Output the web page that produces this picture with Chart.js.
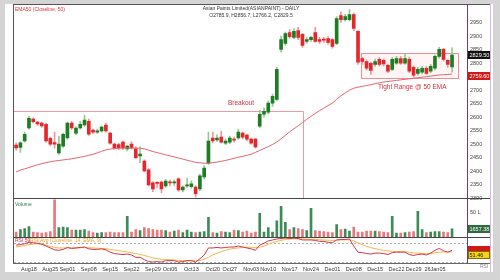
<!DOCTYPE html>
<html>
<head>
<meta charset="utf-8">
<script src="https://cdn.jsdelivr.net/npm/chart.js@4.4.1/dist/chart.umd.min.js"></script>
<style>
  html, body { margin: 0; padding: 0; background: #d4d4d4; }
  #box { position: absolute; left: 0; top: 0; width: 500px; height: 280px; }
</style>
</head>
<body>
<div id="box"><canvas id="chart" width="500" height="280"></canvas></div>
<script>
// trading days shown on the chart
const dates = ['Aug12','Aug13','Aug14','Aug18','Aug19','Aug20','Aug21','Aug22','Aug25','Aug26','Aug28','Aug29',
  'Sep01','Sep02','Sep03','Sep04','Sep05','Sep08','Sep09','Sep10','Sep11','Sep12','Sep15','Sep16','Sep17','Sep18','Sep19',
  'Sep22','Sep23','Sep24','Sep25','Sep26','Sep29','Sep30','Oct01','Oct03','Oct06','Oct07','Oct08','Oct09','Oct10',
  'Oct13','Oct14','Oct15','Oct16','Oct17','Oct20','Oct21','Oct23','Oct24','Oct27','Oct28','Oct29','Oct30','Oct31',
  'Nov03','Nov04','Nov06','Nov07','Nov10','Nov11','Nov12','Nov13','Nov14','Nov17','Nov18','Nov19','Nov20','Nov21',
  'Nov24','Nov25','Nov26','Nov27','Nov28','Dec01','Dec02','Dec03','Dec04','Dec05','Dec08','Dec09','Dec10','Dec11','Dec12',
  'Dec15','Dec16','Dec17','Dec18','Dec19','Dec22','Dec23','Dec24','Dec26','Dec29','Dec30','Dec31',
  'Jan01','Jan02','Jan05','Jan06','Jan07','Jan08','Jan09'];

// week labels on the x axis
const tickDates  = ['Aug18','Aug25','Sep01','Sep08','Sep15','Sep22','Sep29','Oct06','Oct13','Oct20','Oct27',
  'Nov03','Nov10','Nov17','Nov24','Dec01','Dec08','Dec15','Dec22','Dec29','Jan05'];
const tickTexts  = ['Aug18','Aug25','Sep01','Sep08','Sep15','Sep22','Sep29','Oct06','Oct13','Oct20','Oct27',
  'Nov03','Nov10','Nov17','Nov24','Dec01','Dec08','Dec15','Dec22','Dec29','26Jan05'];

const opens = [2497,2488,2512,2560,2593,2582,2578,2574,2522,2506,2468,2493,2523,2578,2541,2560,2571,2585,2552,2545,
  2549,2571,2541,2501,2499,2508,2483,2501,2483,2457,2438,2405,2357,2357,2360,2346,2360,2357,2372,2331,
  2346,2343,2342,2335,2379,2430,2523,2516,2526,2504,2508,2519,2523,2541,2534,2519,2519,2567,2611,2619,
  2652,2666,2851,2873,2913,2895,2920,2906,2880,2887,2913,2887,2887,2891,2887,2873,2976,2961,2961,2979,
  2917,2817,2806,2799,2795,2814,2810,2792,2777,2800,2817,2800,2814,2784,2762,2766,2781,2770,2781,2825,
  2851,2810,2785.9];
const highs = [2505,2510,2545,2604,2598,2586,2582,2578,2526,2545,2530,2541,2582,2585,2565,2585,2607,2593,2556,2556,
  2567,2578,2545,2504,2504,2512,2497,2510,2490,2490,2442,2410,2362,2362,2364,2370,2368,2368,2376,2346,
  2375,2365,2346,2390,2420,2545,2545,2535,2549,2520,2530,2526,2556,2545,2537,2523,2522,2625,2635,2660,
  2685,2785,2900,2915,2924,2928,2932,2910,2895,2900,2932,2895,2895,2898,2891,2972,2990,2980,2998,2985,
  2920,2822,2812,2803,2815,2820,2815,2795,2820,2825,2825,2836,2822,2790,2784,2788,2788,2795,2830,2858,
  2855,2812,2856.7];
const lows = [2478,2470,2508,2555,2578,2570,2562,2508,2495,2485,2462,2488,2519,2555,2535,2556,2565,2533,2540,2540,
  2545,2545,2500,2482,2480,2480,2475,2482,2446,2432,2398,2346,2325,2340,2320,2340,2346,2348,2326,2324,
  2340,2338,2305,2328,2372,2425,2505,2510,2504,2498,2502,2508,2518,2520,2512,2500,2485,2560,2600,2612,
  2640,2660,2840,2865,2891,2890,2887,2858,2873,2880,2876,2873,2876,2870,2855,2868,2950,2955,2955,2920,
  2795,2795,2775,2758,2788,2790,2790,2765,2772,2795,2795,2795,2765,2748,2755,2760,2758,2765,2775,2818,
  2808,2784,2766.2];
const closes = [2486,2505,2537,2596,2583,2575,2568,2512,2500,2500,2501,2537,2578,2560,2560,2574,2589,2537,2545,2550,
  2563,2549,2504,2486,2487,2486,2493,2486,2450,2464,2401,2350,2335,2355,2335,2364,2357,2360,2331,2342,
  2350,2354,2317,2383,2412,2512,2512,2523,2508,2512,2523,2515,2545,2526,2519,2504,2490,2611,2622,2652,
  2677,2777,2887,2909,2898,2917,2895,2865,2887,2895,2880,2880,2885,2876,2862,2965,2961,2972,2979,2928,
  2803,2806,2781,2773,2806,2795,2797,2770,2814,2817,2800,2817,2770,2755,2777,2781,2762,2788,2825,2851,
  2814,2795,2829.5];

// volume in lakh shares
const volumes = [10,15,17,21,10,9,8,9,11,75,19,20,19,14,14,14,15,12,9,8,
  9,9,10,9,9,9,42,10,15,13,19,17,15,14,14,13,10,12,14,9,
  14,10,9,10,11,40,9,8,11,10,9,14,13,10,12,8,10,48,10,19,
  10,33,62,30,15,19,17,15,13,58,13,12,11,10,9,25,15,16,12,20,
  10,10,12,12,12,11,10,9,42,8,8,9,10,11,52,15,9,10,11,11,
  10,9,16.5738];

const ema50 = [2398,2404,2409,2414,2419,2424,2428,2432,2435,2438,2440,2442,2444,2446,2449,2452,2455,2459,2463,2468,
  2474,2479,2482,2484,2485,2486,2486,2486,2486,2485,2483,2478,2473,2469,2465,2461,2457,2453,2449,2445,
  2441,2437,2433,2431,2430,2430,2432,2434,2437,2440,2444,2448,2452,2455,2459,2463,2470,2477,2484,2491,
  2499,2508,2520,2533,2546,2557,2568,2580,2592,2603,2614,2624,2633,2643,2652,2666,2679,2690,2700,2707,
  2711,2714,2717,2720,2724,2727,2730,2732,2734,2736,2738,2740,2742,2744,2746,2748,2750,2752,2754,2756,
  2757,2758,2759.6];

const rsi = [66,67,69,72,71,70,68,64,60,56,55,57,61,59,60,61,62,58,57,57,
  58,56,51,48,47,46,47,45,40,40,35,31,30,31,30,33,33,33,30,31,
  33,33,30,37,45,60,60,61,60,61,62,62,64,62,60,58,55,66,70,75,
  77,79,80,81,80,81,80,77,77,77,76,74,74,72,71,77,78,78,79,64,
  51,50,48,47,49,49,48,46,50,51,51,51,46,44,46,47,45,49,55,59,
  54,51,55];
const rsiAvg = [62,63.5,65,67,68,69,68,66,63,61,60,60,60,60,60,60.5,61,60.5,60,59.5,
  59,58.5,57,55.5,54,52.5,51.5,50,48,46.5,44,41.5,39,37.5,36,35.5,35,34.5,33.5,33,
  33,33,32.5,33.5,36,40,45,49,52,55,57.5,59,60,61,61.5,61.5,61,62,63.5,68,
  71,74,76,78,79,79.5,79.5,79,78.5,78.5,78,77.5,77,76.5,76,76.5,77,77,77.5,75,
  71,67,63.5,60.5,58.5,56.5,55,53.5,53,52.5,52,52,51,49.5,49,48.5,48,48,49.5,51,
  51.5,51.5,51.46];

const priceTicks = [2300,2350,2400,2450,2500,2550,2600,2650,2700,2750,2800,2850,2900,2950];

// drawn studies
const breakoutLevel = 2622, breakoutEnd = 67.1;
const rangeTop = 2836, rangeBottom = 2745, rangeStart = 80.6, rangeEnd = 103.2;

const labels = dates.concat(['', '', '']);
const up = closes.map((c, i) => c >= opens[i]);
const font = 'Liberation Sans';

function tag(ctx, y, text, bg, fg, border) {
  ctx.fillStyle = bg;
  ctx.fillRect(468, Math.round(y) - 4, 22, 8);
  if (border) {
    ctx.strokeStyle = border;
    ctx.lineWidth = 1;
    ctx.strokeRect(468.5, Math.round(y) - 3.5, 21, 7);
  }
  ctx.fillStyle = fg;
  ctx.textAlign = 'left';
  ctx.textBaseline = 'middle';
  ctx.font = '5.5px ' + font;
  ctx.fillText(text, 469.5, Math.round(y) + 0.5);
}

function line(ctx, x1, y1, x2, y2, color) {
  ctx.strokeStyle = color;
  ctx.lineWidth = 1;
  ctx.beginPath();
  ctx.moveTo(x1, y1);
  ctx.lineTo(x2, y2);
  ctx.stroke();
}

const decor = {
  id: 'decor',
  beforeDraw(chart) {
    const ctx = chart.ctx;
    ctx.save();
    ctx.fillStyle = '#d4d4d4';
    ctx.fillRect(0, 0, 500, 280);
    ctx.fillStyle = '#ffffff';
    ctx.fillRect(5, 4, 488, 268);
    ctx.restore();
  },
  beforeDatasetsDraw(chart) {
    const ctx = chart.ctx, x = chart.scales.x, y = chart.scales.y, r = chart.scales.yRsi;
    const a = chart.chartArea;
    ctx.save();
    // breakout line
    const by = Math.round(y.getPixelForValue(breakoutLevel)) + 0.5;
    const bx = Math.round(x.getPixelForValue(breakoutEnd)) + 0.5;
    line(ctx, a.left, by, bx, by, '#ee9aa0');
    line(ctx, bx, by, bx, y.bottom, '#ee9aa0');
    // tight range box
    const l = x.getPixelForValue(rangeStart), rr = x.getPixelForValue(rangeEnd);
    const t = y.getPixelForValue(rangeTop), b = y.getPixelForValue(rangeBottom);
    ctx.fillStyle = 'rgba(255,225,225,0.35)';
    ctx.fillRect(l, t, rr - l, b - t);
    ctx.strokeStyle = '#ee8f96';
    ctx.strokeRect(Math.round(l) + 0.5, Math.round(t) + 0.5, Math.round(rr - l), Math.round(b - t));
    // rsi levels
    ctx.setLineDash([2, 2]);
    [70, 30].forEach(v => {
      const ly = Math.round(r.getPixelForValue(v)) + 0.5;
      line(ctx, a.left, ly, a.right, ly, '#b0b0b0');
    });
    ctx.restore();
  },
  afterDraw(chart) {
    const ctx = chart.ctx, y = chart.scales.y, v = chart.scales.yVol, r = chart.scales.yRsi;
    const a = chart.chartArea;
    ctx.save();
    // frame
    line(ctx, 13, 4.5, 490, 4.5, '#555');
    line(ctx, 13.5, 4, 13.5, a.bottom, '#555');
    line(ctx, 490.5, 4, 490.5, 272, '#d9b8de');
    line(ctx, 13, Math.round(y.bottom) + 0.5, 490, Math.round(y.bottom) + 0.5, '#444');
    line(ctx, 13, Math.round(v.bottom) + 0.5, 490, Math.round(v.bottom) + 0.5, '#444');
    line(ctx, 13, Math.round(a.bottom) + 0.5, 490, Math.round(a.bottom) + 0.5, '#666');
    line(ctx, 467.5, 4, 467.5, a.bottom, '#6b3f6b');

    // texts
    ctx.textBaseline = 'middle';
    ctx.textAlign = 'center';
    ctx.fillStyle = '#333';
    ctx.font = '5px ' + font;
    ctx.fillText('Asian Paints Limited(ASIANPAINT) - DAILY', 251, 9);
    ctx.fillText('O2785.9, H2856.7, L2766.2, C2829.5', 251, 15.5);
    ctx.textAlign = 'left';
    ctx.fillStyle = '#e0303a';
    ctx.fillText('EMA50 (Closeline, 50)', 15, 10);
    ctx.font = '6.5px ' + font;
    ctx.fillStyle = '#d6303f';
    ctx.fillText('Breakout', 228, 103);
    ctx.fillText('Tight Range @ 50 EMA', 378, 87);
    ctx.font = '5px ' + font;
    ctx.fillStyle = '#2f7d4c';
    ctx.fillText('Volume', 15, 204.5);
    ctx.fillStyle = '#d0303f';
    ctx.fillText('RSI 59', 15, 241);
    ctx.fillStyle = '#e8a21e';
    ctx.fillText('RSI(Avg (Closeline, 14, EMA, 9)', 30, 241);
    ctx.fillStyle = '#888';
    ctx.fillText('RSI', 480, 267);

    // last value tags
    const n = closes.length - 1;
    tag(ctx, y.getPixelForValue(closes[n]), closes[n].toFixed(2), '#111', '#fff');
    tag(ctx, y.getPixelForValue(ema50[n]) + 2, ema50[n].toFixed(2), '#d01a1a', '#fff');
    tag(ctx, v.getPixelForValue(volumes[n]), (volumes[n] * 100).toFixed(2), '#2d6b3c', '#fff');
    const ry = r.getPixelForValue(rsi[n]);
    tag(ctx, ry, '', '#d01a1a', '#fff');
    tag(ctx, Math.max(r.getPixelForValue(rsiAvg[n]) + 3, ry + 5), rsiAvg[n].toFixed(2), '#f3d417', '#222', '#8a6a00');
    ctx.restore();
  }
};

new Chart(document.getElementById('chart'), {
  type: 'bar',
  data: {
    labels: labels,
    datasets: [
      {
        type: 'line', data: ema50, yAxisID: 'y', borderColor: '#e3656f', borderWidth: 1,
        pointRadius: 0, tension: 0, order: 0
      },
      {
        data: opens.map((o, i) => [o, closes[i]]), yAxisID: 'y', grouped: false,
        barThickness: 3, minBarLength: 1, order: 1,
        backgroundColor: up.map(u => u ? '#1e7d22' : '#e5262c')
      },
      {
        data: lows.map((l, i) => [l, highs[i]]), yAxisID: 'y', grouped: false,
        barThickness: 1, order: 2,
        backgroundColor: up.map(u => u ? '#94c894' : '#f0979a')
      },
      {
        data: volumes, yAxisID: 'yVol', grouped: false, barThickness: 2, order: 3,
        backgroundColor: up.map(u => u ? '#3f8b58' : '#e6787e')
      },
      {
        type: 'line', data: rsi, yAxisID: 'yRsi', borderColor: '#d3354a', borderWidth: 1,
        pointRadius: 0, tension: 0, order: 0
      },
      {
        type: 'line', data: rsiAvg, yAxisID: 'yRsi', borderColor: '#f5b54a', borderWidth: 1,
        pointRadius: 0, tension: 0, order: 0
      }
    ]
  },
  options: {
    responsive: false,
    animation: false,
    layout: { padding: { left: 14, right: 10, top: 5, bottom: 8 } },
    plugins: { legend: { display: false }, tooltip: { enabled: false } },
    scales: {
      x: {
        type: 'category', offset: true,
        grid: { display: false, drawTicks: false },
        border: { display: false },
        ticks: {
          autoSkip: false, maxRotation: 0, minRotation: 0, padding: 3,
          font: { family: font, size: 5.5 }, color: '#333',
          callback: function (val) {
            const k = tickDates.indexOf(this.getLabelForValue(val));
            return k >= 0 ? tickTexts[k] : '';
          }
        },
        afterFit: s => { s.height = 9; }
      },
      y: {
        position: 'right', stack: 'panes', stackWeight: 193, min: 2300, max: 3010,
        grid: { display: false, drawTicks: false }, border: { display: false },
        afterBuildTicks: s => { s.ticks = priceTicks.map(p => ({ value: p })); },
        ticks: {
          autoSkip: false, padding: 3, font: { family: font, size: 5.5 }, color: '#444',
          callback: val => String(val)
        },
        afterFit: s => { s.width = 23; }
      },
      yVol: {
        position: 'right', stack: 'panes', stackWeight: 39, min: 0, max: 78,
        grid: { display: false, drawTicks: false }, border: { display: false },
        afterBuildTicks: s => { s.ticks = [{ value: 50 }]; },
        ticks: {
          autoSkip: false, padding: 3, font: { family: font, size: 5.5 }, color: '#444',
          callback: val => val + ' L'
        },
        afterFit: s => { s.width = 23; }
      },
      yRsi: {
        position: 'right', stack: 'panes', stackWeight: 26, min: 28, max: 83,
        grid: { display: false, drawTicks: false }, border: { display: false },
        ticks: { display: false },
        afterFit: s => { s.width = 23; }
      }
    }
  },
  plugins: [decor]
});
</script>
</body>
</html>
